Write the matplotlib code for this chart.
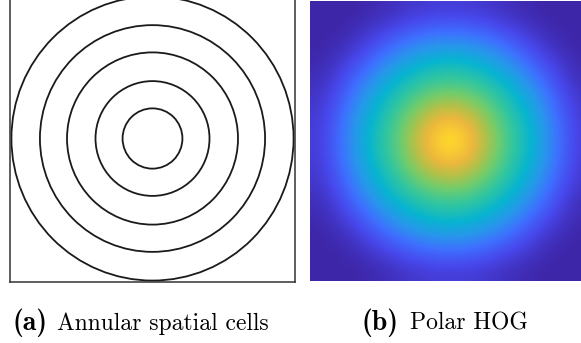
import matplotlib
matplotlib.use("Agg")
import matplotlib.pyplot as plt
from matplotlib.patches import Circle
from matplotlib.colors import LinearSegmentedColormap
import numpy as np

# ring radii of the annular cells, as a fraction of the half box width
ring_radii = [0.21, 0.40, 0.60, 0.79, 0.99]

# one quadrant of the polar HOG map (row/col offset from centre, 0..7)
hog_quadrant = np.array([
    [1.00, 0.85, 0.70, 0.54, 0.45, 0.32, 0.18, 0.07],
    [0.85, 0.80, 0.65, 0.53, 0.43, 0.31, 0.17, 0.065],
    [0.70, 0.65, 0.57, 0.48, 0.39, 0.27, 0.14, 0.055],
    [0.54, 0.53, 0.48, 0.42, 0.32, 0.21, 0.095, 0.035],
    [0.45, 0.43, 0.39, 0.32, 0.23, 0.13, 0.06, 0.015],
    [0.32, 0.31, 0.27, 0.21, 0.13, 0.065, 0.025, 0.0],
    [0.18, 0.17, 0.14, 0.095, 0.06, 0.025, 0.0, 0.0],
    [0.07, 0.065, 0.055, 0.035, 0.015, 0.0, 0.0, 0.0],
])

captions = [("(a)", "Annular spatial cells"), ("(b)", "Polar HOG")]

# parula-like colormap
parula_colors = [
    (0.2422, 0.1504, 0.6603),
    (0.2803, 0.2782, 0.9221),
    (0.2440, 0.4358, 0.9988),
    (0.1540, 0.5902, 0.9218),
    (0.0297, 0.7082, 0.8163),
    (0.1938, 0.7758, 0.6251),
    (0.4420, 0.8014, 0.4234),
    (0.7041, 0.7540, 0.2843),
    (0.9290, 0.7197, 0.2385),
    (0.9892, 0.8136, 0.1885),
    (0.9769, 0.9839, 0.0805),
]
parula = LinearSegmentedColormap.from_list("parula", parula_colors)

W, H = 581, 343
fig = plt.figure(figsize=(W / 100, H / 100), dpi=100)

# left panel: annular cells
ax1 = fig.add_axes([10 / W, (H - 282) / H, 285 / W, 287 / H])
for r in ring_radii:
    ax1.add_patch(Circle((0, 0), r, fill=False, edgecolor="#1a1a1a", lw=1.3))
ax1.set_xlim(-1, 1)
ax1.set_ylim(-1, 1)
ax1.set_xticks([])
ax1.set_yticks([])
for s in ax1.spines.values():
    s.set_linewidth(1.1)
    s.set_color("#333333")

# right panel: polar HOG map
top = np.hstack([hog_quadrant[:, :0:-1], hog_quadrant])
grid = np.vstack([top[:0:-1], top])
ax2 = fig.add_axes([310 / W, (H - 281) / H, 280 / W, 280 / H])
ax2.imshow(grid, cmap=parula, vmin=0, vmax=1, interpolation="bicubic",
           aspect="auto")
ax2.set_xticks([])
ax2.set_yticks([])
for s in ax2.spines.values():
    s.set_visible(False)

# captions
yb = 1 - 330 / H
pos = [(12, 57), (362, 410)]
for (lab, txt), (x0, x1) in zip(captions, pos):
    fig.text(x0 / W, yb, lab, family="cmb10", fontsize=20, va="baseline")
    fig.text(x1 / W, yb, txt, family="cmr10", fontsize=17, va="baseline")

fig.savefig("out.png", dpi=100)
